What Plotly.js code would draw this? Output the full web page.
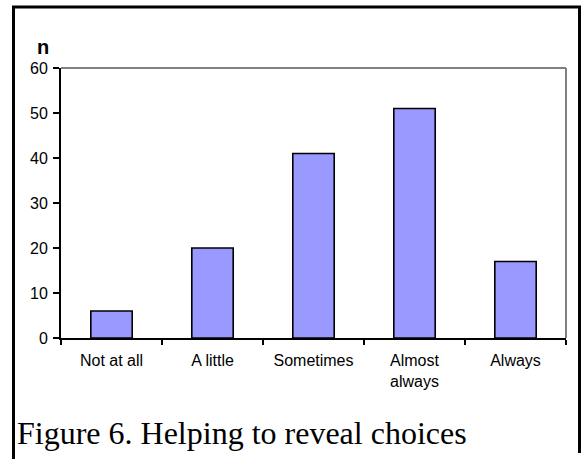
<!DOCTYPE html>
<html>
<head>
<meta charset="utf-8">
<script src="https://cdn.plot.ly/plotly-3.0.1.min.js"></script>
<style>
html,body{margin:0;padding:0;background:#fff;}
#chart{width:583px;height:459px;}
</style>
</head>
<body>
<div id="chart"></div>
<script>
var categories = ["Not at all", "A little", "Sometimes", "Almost<br>always", "Always"];
var counts = [6, 20, 41, 51, 17];
var yTicks = [0, 10, 20, 30, 40, 50, 60];
var yAxisLabel = "n";
var caption = "Figure 6. Helping to reveal choices";

var L = 61, R = 17, T = 68, B = 121;
var W = 583, H = 459;
var pw = W - L - R, ph = H - T - B;
function px(x){ return (x - L) / pw; }
function py(y){ return (H - B - y) / ph; }

var trace = {
  type: "bar",
  x: categories,
  y: counts,
  marker: { color: "#9999FF", line: { color: "#000000", width: 1.6 } },
  hoverinfo: "skip"
};

var layout = {
  width: W, height: H,
  margin: { l: L, r: R, t: T, b: B, pad: 0 },
  paper_bgcolor: "#ffffff",
  plot_bgcolor: "#ffffff",
  showlegend: false,
  bargap: 0.59,
  font: { family: "Liberation Sans, Arial, sans-serif", size: 16, color: "#000" },
  xaxis: {
    type: "category",
    showline: true, linecolor: "#000", linewidth: 2,
    ticks: "outside", tickson: "boundaries", ticklen: 5, tickwidth: 1.5, tickcolor: "#000",
    showgrid: false, zeroline: false,
    ticklabelstandoff: 7,
    tickfont: { family: "Liberation Sans, Arial, sans-serif", size: 16, color: "#000" }
  },
  yaxis: {
    range: [0, 60],
    tickvals: yTicks,
    ticktext: yTicks.map(String),
    showline: true, linecolor: "#000", linewidth: 2,
    ticks: "outside", ticklen: 6, tickwidth: 1.5, tickcolor: "#000",
    showgrid: false, zeroline: false,
    ticklabelstandoff: 2,
    tickfont: { family: "Liberation Sans, Arial, sans-serif", size: 16, color: "#000" }
  },
  shapes: [
    { type: "line", xref: "paper", yref: "paper", x0: 0, x1: 1, y0: 1, y1: 1,
      line: { color: "#808080", width: 2 } },
    { type: "line", xref: "paper", yref: "paper", x0: 1, x1: 1, y0: 0, y1: 1,
      line: { color: "#808080", width: 2 } },
    { type: "path", xref: "paper", yref: "paper",
      path: "M " + px(13.5) + " " + py(462) + " L " + px(13.5) + " " + py(7) +
            " L " + px(579.5) + " " + py(7) + " L " + px(579.5) + " " + py(453),
      line: { color: "#000", width: 3 } }
  ],
  annotations: [
    { xref: "paper", yref: "paper", x: px(42.5), y: py(47), xanchor: "center", yanchor: "middle",
      text: "<b>" + yAxisLabel + "</b>", showarrow: false,
      font: { family: "Liberation Sans, Arial, sans-serif", size: 20, color: "#000" } },
    { xref: "paper", yref: "paper", x: px(15), y: py(433), xanchor: "left", yanchor: "middle",
      text: caption, showarrow: false,
      font: { family: "Liberation Serif, Times New Roman, serif", size: 32, color: "#000" } }
  ]
};

Plotly.newPlot("chart", [trace], layout, { displayModeBar: false, staticPlot: true });
</script>
</body>
</html>
